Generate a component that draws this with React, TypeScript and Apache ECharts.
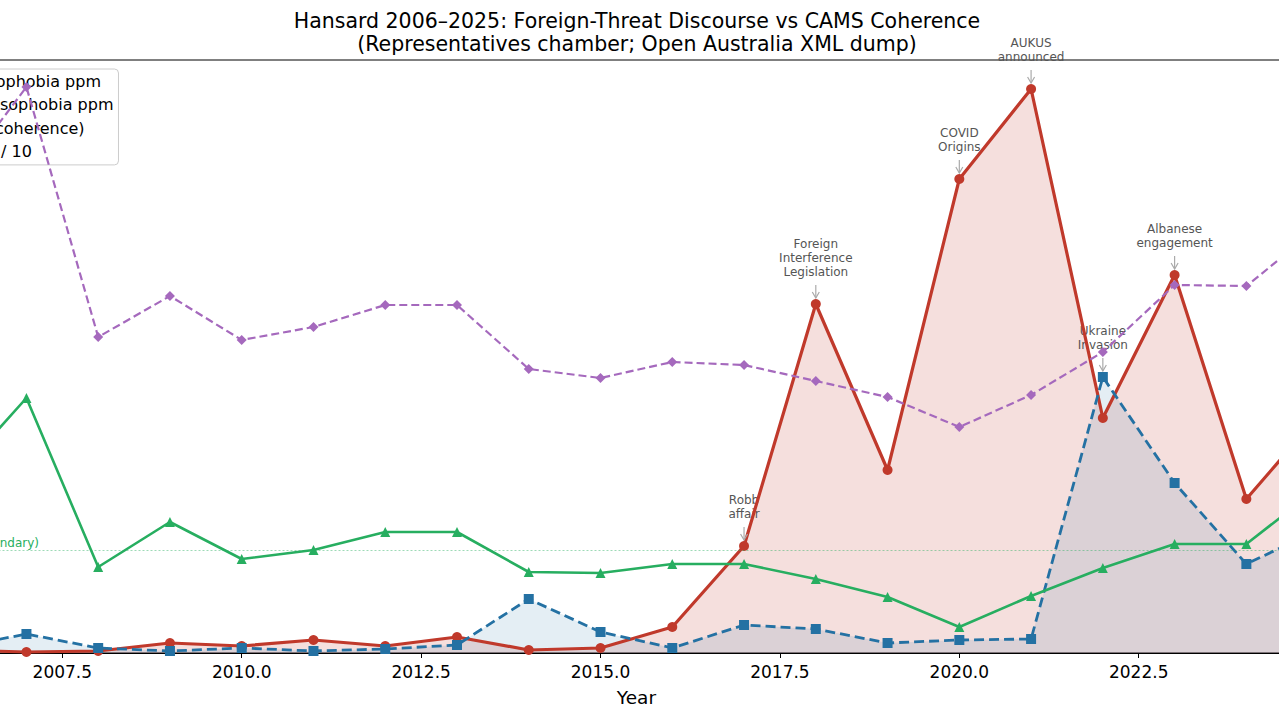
import React, { useEffect, useRef } from "react";
import * as echarts from "echarts";

const years = [2006, 2007, 2008, 2009, 2010, 2011, 2012, 2013, 2014, 2015, 2016, 2017, 2018, 2019, 2020, 2021, 2022, 2023, 2024, 2025];
const sinophobiaPpm = [0.3, 0.1, 0.2, 1.0, 0.7, 1.3, 0.7, 1.6, 0.3, 0.5, 2.6, 10.7, 34.9, 18.3, 47.4, 56.4, 23.5, 37.8, 15.4, 23.7];
const russophobiaPpm = [0.5, 1.9, 0.5, 0.2, 0.5, 0.2, 0.4, 0.8, 5.4, 2.1, 0.5, 2.8, 2.4, 1.0, 1.3, 1.4, 27.6, 17.0, 8.9, 12.3];
const coherencePsi = [17.5, 25.5, 8.6, 13.1, 9.4, 10.3, 12.1, 12.1, 8.1, 8.0, 8.9, 8.9, 7.4, 5.6, 2.6, 5.7, 8.5, 10.9, 10.9, 16.5];
const stressOver10 = [47.1, 56.6, 31.6, 35.7, 31.3, 32.6, 34.8, 34.8, 28.4, 27.5, 29.1, 28.8, 27.2, 25.6, 22.6, 25.8, 30.1, 36.8, 36.7, 42.5];
const boundaryValue = 10.3;
const boundaryLabel = "Ψ = 0.5 (stability boundary)";

const tickValues = [2007.5, 2010, 2012.5, 2015, 2017.5, 2020, 2022.5, 2025];

const eventYears = [2017, 2018, 2020, 2021, 2022, 2023];
const eventLabels = ["Robb\naffair", "Foreign\nInterference\nLegislation", "COVID\nOrigins", "AUKUS\nannounced", "Ukraine\nInvasion", "Albanese\nengagement"];
const eventTarget = ["sino", "sino", "sino", "sino", "russo", "sino"];

const names = ["Sinophobia ppm", "Russophobia ppm", "Ψ (coherence)", "ESI / 10"];
const RED = "#c0392b";
const BLUE = "#2471a3";
const GREEN = "#27ae60";
const PURPLE = "#a569bd";
const FONT = "DejaVu Sans";

const OFF = 150;
const W = 2 * (637 + OFF);

export default function App() {
  const ref = useRef<HTMLDivElement>(null);
  useEffect(() => {
    if (!ref.current) return;
    const chart = echarts.init(ref.current, null, { renderer: "svg" });
    const pairs = (arr: number[]) => years.map((y, i) => [y, arr[i]]);
    const option: any = {
      animation: false,
      backgroundColor: "#fff",
      title: {
        text: "Hansard 2006–2025: Foreign-Threat Discourse vs CAMS Coherence\n(Representatives chamber; Open Australia XML dump)",
        left: "center",
        top: 4,
        textStyle: { fontFamily: FONT, fontSize: 20.5, fontWeight: "normal", color: "#000", lineHeight: 23.5 },
      },
      grid: {
        left: OFF - 113.5,
        right: W - (OFF + 1386.3),
        top: 60,
        bottom: 67,
        show: true,
        borderColor: "#000",
        borderWidth: 1,
        backgroundColor: "transparent",
      },
      legend: {
        data: names,
        orient: "vertical",
        left: OFF - 73,
        top: 69,
        itemWidth: 30,
        itemHeight: 12,
        itemGap: 6.3,
        padding: [4, 5, 5, 8],
        backgroundColor: "rgba(255,255,255,0.8)",
        borderColor: "#cccccc",
        borderWidth: 1,
        borderRadius: 4,
        textStyle: { fontFamily: FONT, fontSize: 16, color: "#000", lineHeight: 17 },
      },
      xAxis: {
        type: "value",
        min: 2005.05,
        max: 2025.95,
        name: "Year",
        nameLocation: "middle",
        nameGap: 35,
        nameTextStyle: { fontFamily: FONT, fontSize: 18.5, color: "#000" },
        axisLine: { show: true, lineStyle: { color: "#000", width: 1 } },
        axisTick: { show: true, length: 5, customValues: tickValues, lineStyle: { color: "#000" } },
        axisLabel: {
          customValues: tickValues,
          formatter: (v: number) => v.toFixed(1),
          fontFamily: FONT,
          fontSize: 17,
          color: "#000",
          margin: 10,
        },
        splitLine: { show: false },
      },
      yAxis: {
        type: "value",
        min: 0,
        max: 59.3,
        axisLine: { show: false },
        axisTick: { show: false },
        axisLabel: { show: false },
        splitLine: { show: false },
      },
      series: [
        {
          name: "sino-fill",
          type: "line",
          data: pairs(sinophobiaPpm),
          symbol: "none",
          lineStyle: { width: 0, opacity: 0 },
          areaStyle: { color: RED, opacity: 0.16 },
          silent: true,
          z: 1,
        },
        {
          name: "russo-fill",
          type: "line",
          data: pairs(russophobiaPpm),
          symbol: "none",
          lineStyle: { width: 0, opacity: 0 },
          areaStyle: { color: BLUE, opacity: 0.12 },
          silent: true,
          z: 1,
        },
        {
          name: names[0],
          type: "line",
          data: pairs(sinophobiaPpm),
          symbol: "circle",
          symbolSize: 10,
          itemStyle: { color: RED },
          lineStyle: { color: RED, width: 3.2 },
          z: 3,
        },
        {
          name: names[1],
          type: "line",
          data: pairs(russophobiaPpm),
          symbol: "rect",
          symbolSize: 10,
          itemStyle: { color: BLUE },
          lineStyle: { color: BLUE, width: 2.8, type: [10, 5] },
          z: 4,
        },
        {
          name: names[2],
          type: "line",
          data: pairs(coherencePsi),
          symbol: "triangle",
          symbolSize: 10,
          itemStyle: { color: GREEN },
          lineStyle: { color: GREEN, width: 2.6 },
          markLine: {
            silent: true,
            symbol: "none",
            label: { show: false },
            lineStyle: { color: GREEN, opacity: 0.45, width: 1, type: [2, 2] },
            data: [{ yAxis: boundaryValue }],
          },
          z: 5,
        },
        {
          name: names[3],
          type: "line",
          data: pairs(stressOver10),
          symbol: "diamond",
          symbolSize: 10,
          itemStyle: { color: PURPLE },
          lineStyle: { color: PURPLE, width: 2.2, type: [8, 4] },
          z: 6,
        },
      ],
    };
    chart.setOption(option);

    const graphics: any[] = [];
    eventYears.forEach((yr, i) => {
      const idx = years.indexOf(yr);
      const val = eventTarget[i] === "sino" ? sinophobiaPpm[idx] : russophobiaPpm[idx];
      const p = chart.convertToPixel({ gridIndex: 0 }, [yr, val]) as number[];
      const x = p[0];
      const py = p[1];
      graphics.push({
        type: "text",
        x,
        y: py - 25,
        z: 1,
        style: {
          text: eventLabels[i],
          fill: "#555",
          fontFamily: FONT,
          fontSize: 12,
          lineHeight: 14,
          align: "center",
          verticalAlign: "bottom",
        },
      });
      graphics.push({
        type: "line",
        z: 10,
        shape: { x1: x, y1: py - 19, x2: x, y2: py - 6 },
        style: { stroke: "#aaa", lineWidth: 1.2 },
      });
      graphics.push({
        type: "polyline",
        z: 10,
        shape: { points: [[x - 3.5, py - 12], [x, py - 6], [x + 3.5, py - 12]] },
        style: { stroke: "#aaa", fill: null, lineWidth: 1.2 },
      });
    });
    const bp = chart.convertToPixel({ gridIndex: 0 }, [2007, boundaryValue]) as number[];
    graphics.push({
      type: "text",
      x: OFF + 39,
      y: bp[1] - 1,
      style: {
        text: boundaryLabel,
        fill: GREEN,
        fontFamily: FONT,
        fontSize: 12,
        align: "right",
        verticalAlign: "bottom",
      },
    });
    chart.setOption({ graphic: graphics });

    return () => chart.dispose();
  }, []);

  return (
    <div style={{ position: "absolute", left: 0, top: 0, width: 1279, height: 720, overflow: "hidden", background: "#fff" }}>
      <div ref={ref} style={{ position: "absolute", left: -OFF, top: 0, width: W, height: 720 }} />
    </div>
  );
}
